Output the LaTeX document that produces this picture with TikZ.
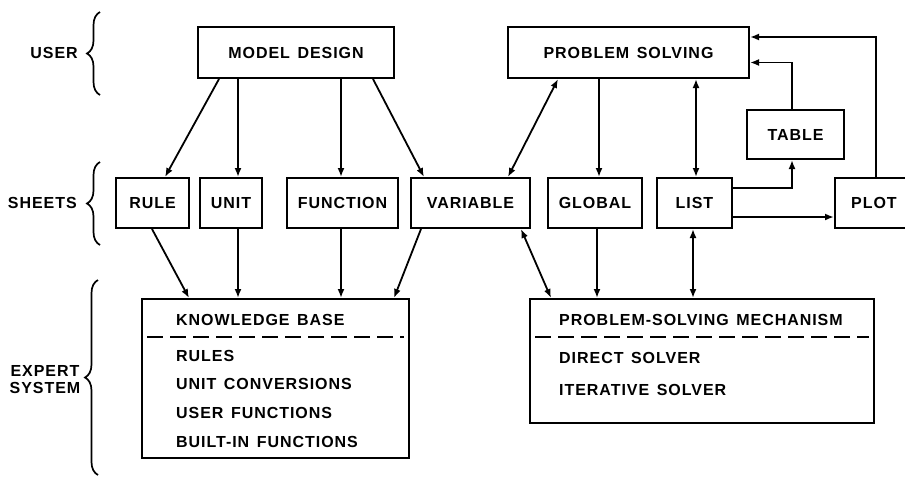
\documentclass[tikz,border=0pt]{standalone}
\usepackage{fontspec}
\setmainfont{Liberation Sans}[LetterSpace=6,WordSpace=1.4]
\usetikzlibrary{arrows.meta,calc,decorations.pathreplacing}
\tikzset{
  box/.style={draw, line width=2pt, rectangle, inner sep=0pt},
  arr/.style={line width=1.8pt, -{Latex[length=9pt,width=7pt]}},
  darr/.style={line width=1.8pt, {Latex[length=9pt,width=7pt]}-{Latex[length=9pt,width=7pt]}},
  lbl/.style={inner sep=0pt},
  brc/.style={line width=1.7pt, decorate, decoration={brace, amplitude=13pt}},
  sep/.style={line width=2pt, dash pattern=on 16pt off 7pt}
}
\begin{document}
\begin{tikzpicture}[x=1pt, y=-1pt, font=\fontsize{16}{19}\selectfont\bfseries]
\useasboundingbox (0,0) rectangle (905,477);

% side labels and braces
\node[lbl, anchor=east] (luser) at (78,53) {USER};
\node[lbl, anchor=east] (lsheets) at (77,203) {SHEETS};
\node[lbl, align=center] (lexpert) at (45,380) {EXPERT\\[-2pt]SYSTEM};
\coordinate (b1a) at (100,95);  \coordinate (b1b) at (100,12);
\coordinate (b2a) at (100,245); \coordinate (b2b) at (100,162);
\coordinate (b3a) at (98,475);  \coordinate (b3b) at (98,280);
\draw[brc] (b1a) -- (b1b);
\draw[brc] (b2a) -- (b2b);
\draw[brc] (b3a) -- (b3b);

% top row
\node[box, minimum width=196pt, minimum height=51pt] (md) at (296,52.5) {MODEL DESIGN};
\node[box, minimum width=241pt, minimum height=51pt] (ps) at (628.5,52.5) {PROBLEM SOLVING};
\node[box, minimum width=97pt, minimum height=49pt] (table) at (795.5,134.5) {TABLE};

% sheets row
\node[box, minimum width=73pt, minimum height=50pt] (rule) at (152.5,203) {RULE};
\node[box, minimum width=62pt, minimum height=50pt] (unit) at (231,203) {UNIT};
\node[box, minimum width=111pt, minimum height=50pt] (func) at (342.5,203) {FUNCTION};
\node[box, minimum width=119pt, minimum height=50pt] (var) at (470.5,203) {VARIABLE};
\node[box, minimum width=94pt, minimum height=50pt] (glob) at (595,203) {GLOBAL};
\node[box, minimum width=75pt, minimum height=50pt] (list) at (694.5,203) {LIST};
\node[box, minimum width=78pt, minimum height=50pt] (plot) at (874,203) {PLOT};

% expert system boxes
\node[box, minimum width=267pt, minimum height=159pt] (kb) at (275.5,378.5) {};
\node[box, minimum width=344pt, minimum height=124pt] (psm) at (702,361) {};
\draw[sep] ($(kb.north west)+(6,39)$) -- ($(kb.north east)+(-6,39)$);
\draw[sep] ($(psm.north west)+(6,39)$) -- ($(psm.north east)+(-6,39)$);

\node[lbl, anchor=west] (kbh) at (176,320) {KNOWLEDGE BASE};
\node[lbl, anchor=west] (kb1) at (176,356) {RULES};
\node[lbl, anchor=west] (kb2) at (176,384) {UNIT CONVERSIONS};
\node[lbl, anchor=west] (kb3) at (176,413) {USER FUNCTIONS};
\node[lbl, anchor=west] (kb4) at (176,442) {BUILT-IN FUNCTIONS};
\node[lbl, anchor=west] (psmh) at (559,320) {PROBLEM-SOLVING MECHANISM};
\node[lbl, anchor=west] (psm1) at (559,358) {DIRECT SOLVER};
\node[lbl, anchor=west] (psm2) at (559,390) {ITERATIVE SOLVER};

% connectors: top to sheets
\draw[arr] ($(md.south west)+(22,0)$) -- ($(rule.north west)+(50,0)$);
\draw[arr] ($(md.south west)+(41,0)$) -- ($(unit.north west)+(39,0)$);
\draw[arr] ($(md.south west)+(144,0)$) -- ($(func.north west)+(55,0)$);
\draw[arr] ($(md.south west)+(176,0)$) -- ($(var.north west)+(14,0)$);
\draw[darr] ($(ps.south west)+(51,0)$) -- ($(var.north east)+(-23,0)$);
\draw[arr] ($(ps.south west)+(92,0)$) -- ($(glob.north west)+(52,0)$);
\draw[darr] ($(ps.south west)+(189,0)$) -- ($(list.north west)+(40,0)$);
\draw[arr] ($(table.north west)+(46,0)$) |- ($(ps.east)+(0,10)$);
\draw[arr] ($(plot.north west)+(42,0)$) |- ($(ps.east)+(0,-15.5)$);
\draw[arr] ($(list.north east)+(0,11)$) -| ($(table.south west)+(46,0)$);
\draw[arr] ($(list.east)+(0,14)$) -- ($(plot.west)+(0,14)$);

% connectors: sheets to expert system
\draw[arr] ($(rule.south west)+(37,0)$) -- ($(kb.north west)+(48,0)$);
\draw[arr] ($(unit.south west)+(39,0)$) -- ($(kb.north west)+(97,0)$);
\draw[arr] ($(func.south west)+(55,0)$) -- ($(kb.north west)+(200,0)$);
\draw[arr] ($(var.south west)+(11,0)$) -- ($(kb.north east)+(-16,0)$);
\draw[darr] ($(var.south east)+(-10,0)$) -- ($(psm.north west)+(22,0)$);
\draw[arr] ($(glob.south west)+(50,0)$) -- ($(psm.north west)+(68,0)$);
\draw[darr] ($(list.south west)+(37,0)$) -- ($(psm.north west)+(164,0)$);
\end{tikzpicture}
\end{document}
